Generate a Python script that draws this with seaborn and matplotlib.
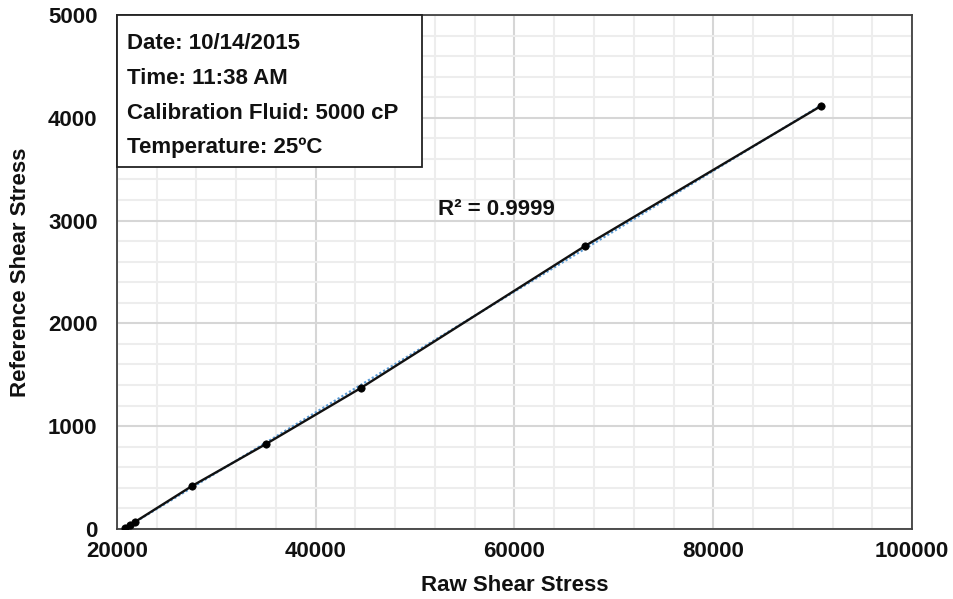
import matplotlib
matplotlib.use("Agg")
import matplotlib.pyplot as plt
from matplotlib.patches import Rectangle
from matplotlib.ticker import MultipleLocator
import seaborn as sns
import pandas as pd

# Calibration readings
raw_shear = [20800, 21300, 21800, 27550, 35000, 44550, 67100, 90850]
ref_shear = [10, 39, 68, 418, 827, 1372, 2753, 4115]

info_lines = [
    "Date: 10/14/2015",
    "Time: 11:38 AM",
    "Calibration Fluid: 5000 cP",
    "Temperature: 25ºC",
]
r2_label = "R² = 0.9999"

df = pd.DataFrame({"raw": raw_shear, "ref": ref_shear})

sns.set_theme(style="white")
plt.rcParams["font.family"] = ["Liberation Sans", "DejaVu Sans"]
plt.rcParams["font.weight"] = "bold"

fs = 16

fig = plt.figure(figsize=(9.54, 5.99), dpi=100)
ax = fig.add_axes([0.1226, 0.1169, 0.8334, 0.8581])

# linear trendline, dotted blue
sns.regplot(data=df, x="raw", y="ref", ci=None, scatter=False, truncate=True,
            ax=ax,
            line_kws=dict(color="#5b9bd5", linewidth=1.6, linestyle=(0, (1, 1)),
                          zorder=2))
# measured series: black line with markers
sns.lineplot(data=df, x="raw", y="ref", sort=False, ax=ax, color="#111111",
             linewidth=1.7, zorder=3)
sns.scatterplot(data=df, x="raw", y="ref", ax=ax, color="black", s=28,
                edgecolor="black", linewidth=0.5, zorder=4)

ax.set_xlim(20000, 100000)
ax.set_ylim(0, 5000)
ax.xaxis.set_major_locator(MultipleLocator(20000))
ax.xaxis.set_minor_locator(MultipleLocator(4000))
ax.yaxis.set_major_locator(MultipleLocator(1000))
ax.yaxis.set_minor_locator(MultipleLocator(200))

ax.grid(True, which="major", color="#d6d6d6", linewidth=1.5, zorder=0)
ax.grid(True, which="minor", color="#ededed", linewidth=1.5, zorder=0)
ax.set_axisbelow(True)

for side in ["left", "right", "top", "bottom"]:
    ax.spines[side].set_visible(True)
    ax.spines[side].set_color("#404040")
    ax.spines[side].set_linewidth(1.3)

ax.tick_params(axis="both", which="both", length=0, labelsize=fs,
               labelcolor="#111111")
ax.tick_params(axis="x", pad=9)
ax.tick_params(axis="y", pad=14)
for lab in ax.get_xticklabels() + ax.get_yticklabels():
    lab.set_fontweight("bold")

ax.set_xlabel("Raw Shear Stress", fontsize=fs, fontweight="bold",
              color="#111111", labelpad=9)
ax.set_ylabel("Reference Shear Stress", fontsize=fs, fontweight="bold",
              color="#111111", labelpad=12)

ax.text(52300, 3103, r2_label, fontsize=fs, fontweight="bold",
        color="#111111", va="center", ha="left", zorder=5)

# information box in the upper-left corner
box_w, box_h = 0.384, 0.296
ax.add_patch(Rectangle((0, 1 - box_h), box_w, box_h, transform=ax.transAxes,
                       facecolor="white", edgecolor="#222222", linewidth=1.3,
                       zorder=6, clip_on=False))
line_y = [0.945, 0.877, 0.809, 0.743]
for txt, yy in zip(info_lines, line_y):
    ax.text(0.013, yy, txt, transform=ax.transAxes, fontsize=fs,
            fontweight="bold", color="#111111", va="center", ha="left",
            zorder=7)

fig.savefig("out.png", dpi=100)
